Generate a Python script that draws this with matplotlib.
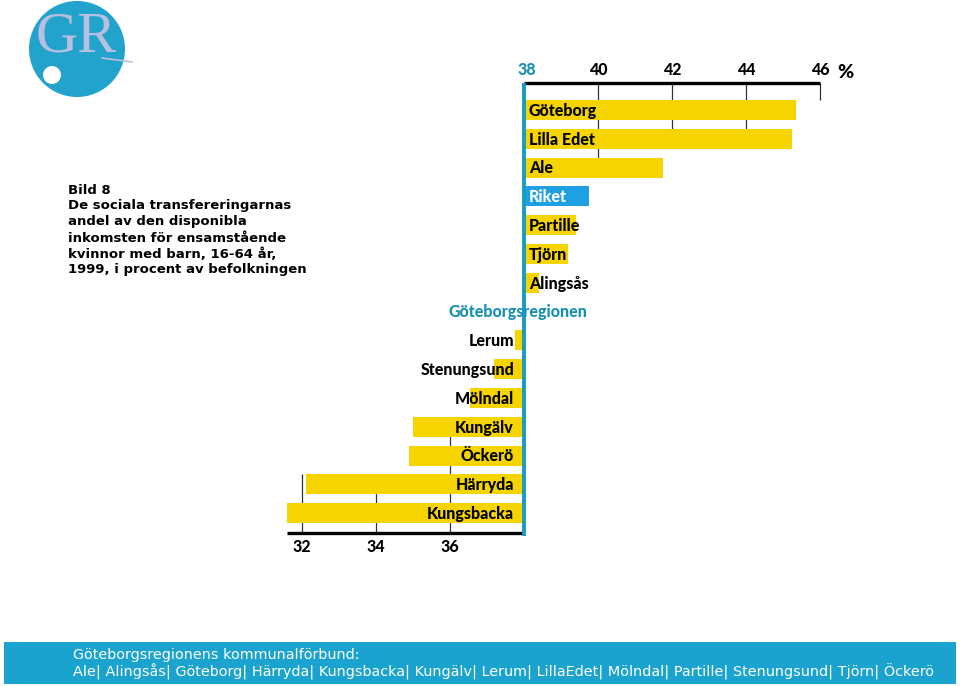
import matplotlib
matplotlib.use('Agg')
import matplotlib.pyplot as plt
from matplotlib.patches import Circle, Rectangle

# ---------------- data ----------------
categories = ['Göteborg', 'Lilla Edet', 'Ale', 'Riket', 'Partille', 'Tjörn', 'Alingsås',
              'Göteborgsregionen', 'Lerum', 'Stenungsund', 'Mölndal', 'Kungälv',
              'Öckerö', 'Härryda', 'Kungsbacka']
values = [45.35, 45.25, 41.75, 39.75, 39.4, 39.2, 38.4,
          38.0, 37.75, 37.2, 36.55, 35.0, 34.9, 32.1, 31.6]
base_value = 38
top_ticks = [38, 40, 42, 44, 46]
bottom_ticks = [32, 34, 36]

title_lines = ['Bild 8',
               'De sociala transfereringarnas',
               'andel av den disponibla',
               'inkomsten för ensamstående',
               'kvinnor med barn, 16-64 år,',
               '1999, i procent av befolkningen']
footer_lines = ['Göteborgsregionens kommunalförbund:',
                'Ale| Alingsås| Göteborg| Härryda| Kungsbacka| Kungälv| Lerum| LillaEdet| Mölndal| Partille| Stenungsund| Tjörn| Öckerö']

# ---------------- style ----------------
YELLOW = '#F5D400'
RIKET = '#1EA0E2'
TEAL = '#1A9BC2'
TEAL_TXT = '#1890B4'
LOGO = '#22A3CC'
LAV = '#B9BFE0'
LABEL_FONT = ['Lato', 'DejaVu Sans']
LW = 'black'

W, H = 960, 686
fig = plt.figure(figsize=(W / 100, H / 100), dpi=100)

# decoration axes in pixel coordinates
deco = fig.add_axes([0, 0, 1, 1])
deco.set_xlim(0, W)
deco.set_ylim(H, 0)
deco.axis('off')

# chart axes: data coordinates mapped to pixels
PX_PER_UNIT = 37.0
X0_PX = 524.0
ROW0_PX = 110.0
ROW_PX = 28.8
ax = fig.add_axes([0, 0, 1, 1])
ax.patch.set_alpha(0)
ax.set_xlim(base_value - X0_PX / PX_PER_UNIT, base_value + (W - X0_PX) / PX_PER_UNIT)
ax.set_ylim((H - ROW0_PX) / ROW_PX, -ROW0_PX / ROW_PX)
ax.axis('off')

def py(p):
    return (p - ROW0_PX) / ROW_PX

def px(p):
    return base_value + (p - X0_PX) / PX_PER_UNIT

n = len(categories)
ypos = list(range(n))
colors = [RIKET if c == 'Riket' else YELLOW for c in categories]

# grid/tick lines behind bars
top_line_ends = {40: 2.0, 42: 1.0, 44: 1.0, 46: -0.35}
bottom_line_ends = {32: 12.65, 34: 13.0, 36: 11.0}
axis_top_y = py(83)
axis_bot_y = py(533)
for t, e in top_line_ends.items():
    ax.plot([t, t], [axis_top_y, e], color='#333333', lw=0.9, zorder=1, solid_capstyle='butt')
for t, e in bottom_line_ends.items():
    ax.plot([t, t], [axis_bot_y, e], color='#333333', lw=0.9, zorder=1, solid_capstyle='butt')

widths = [v - base_value for v in values]
ax.barh(ypos, widths, left=base_value, height=0.7, color=colors, zorder=2, linewidth=0)

# axis lines
ax.plot([base_value, 46], [axis_top_y, axis_top_y], color='black', lw=2.4, zorder=3,
        solid_capstyle='butt')
ax.plot([px(287), base_value], [axis_bot_y, axis_bot_y], color='black', lw=2.4, zorder=3,
        solid_capstyle='butt')
ax.plot([base_value, base_value], [axis_top_y, py(536)], color=TEAL, lw=2.8, zorder=4,
        solid_capstyle='butt')

# tick labels
for t in top_ticks:
    xx = t + 0.08 if t == base_value else t
    ax.text(xx, py(70), str(t), ha='center', va='center', fontsize=11.5,
            fontweight=LW, family=LABEL_FONT,
            color=TEAL_TXT if t == base_value else 'black')
ax.text(px(845), py(73), '%', ha='center', va='center', fontsize=14,
        fontweight=LW, family=LABEL_FONT, color='black')
for t in bottom_ticks:
    ax.text(t, py(547), str(t), ha='center', va='center', fontsize=11.5,
            fontweight=LW, family=LABEL_FONT, color='black')

# bar labels
LFS = 11.5
for i, (c, v) in enumerate(zip(categories, values)):
    if c == 'Göteborgsregionen':
        ax.text(px(518), i, c, ha='center', va='center', fontsize=LFS,
                fontweight=LW, family=LABEL_FONT, color=TEAL_TXT, zorder=5)
    elif v > base_value:
        ax.text(px(529), i + 0.03, c, ha='left', va='center', fontsize=LFS,
                fontweight=LW, family=LABEL_FONT,
                color='white' if c == 'Riket' else 'black', zorder=5)
    else:
        ax.text(px(514), i + 0.03, c, ha='right', va='center', fontsize=LFS,
                fontweight=LW, family=LABEL_FONT, color='black', zorder=5)

# title block
for k, line in enumerate(title_lines):
    deco.text(68, 190 + k * 16, line, ha='left', va='center', fontsize=9.5,
              fontweight='bold', family=['DejaVu Sans'], color='black')

# logo
deco.add_patch(Circle((77, 49), 48, color=LOGO, lw=0))
deco.text(76, 37, 'GR', ha='center', va='center', fontsize=42,
          family=['Liberation Serif', 'DejaVu Serif'], color=LAV)
deco.plot([102, 132], [58, 62], color=LAV, lw=1.2)
deco.add_patch(Circle((52, 75), 9, color='white', lw=0))

# footer band
deco.add_patch(Rectangle((4, 642), 952, 42, color='#1AA3CE', lw=0))
deco.text(73, 655, footer_lines[0], ha='left', va='center', fontsize=10.35,
          family=['DejaVu Sans'], color='white')
deco.text(73, 672, footer_lines[1], ha='left', va='center', fontsize=10.35,
          family=['DejaVu Sans'], color='white')

fig.savefig('out.png', dpi=100)
